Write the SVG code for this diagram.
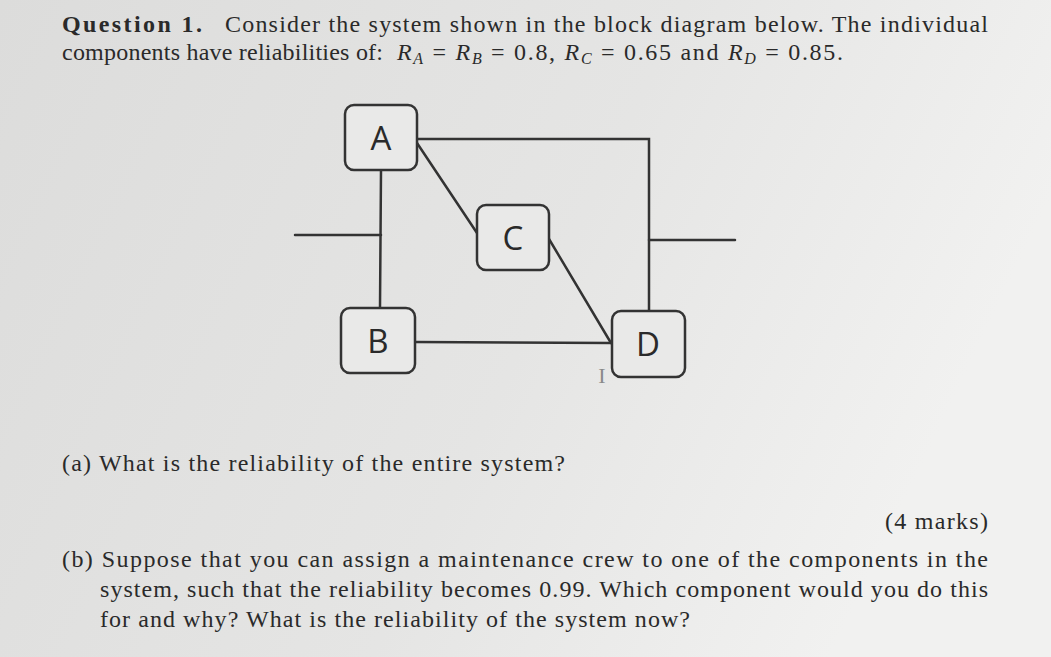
<svg xmlns="http://www.w3.org/2000/svg" width="1051" height="657" viewBox="0 0 1051 657">
<defs>
<linearGradient id="bg" x1="0" y1="0" x2="1" y2="0.3">
<stop offset="0" stop-color="#dcdcdb"/>
<stop offset="0.6" stop-color="#e5e5e4"/>
<stop offset="1" stop-color="#f1f1f0"/>
</linearGradient>
</defs>
<style>
.t{font-family:"Liberation Serif","DejaVu Serif",serif;font-size:24px;fill:#2a2a2a}
.b{font-weight:bold}
.i{font-style:italic}
.s{font-size:16px;font-style:italic}
.box{fill:#e9e9e8;stroke:#333;stroke-width:2.5}
.lbl{font-family:"Open Sans","Liberation Sans",sans-serif;font-size:33px;fill:#2a2a2a;text-anchor:middle}
.ln{stroke:#333;stroke-width:2.5;fill:none;stroke-linecap:round}
</style>
<rect width="1051" height="657" fill="url(#bg)"/>

<text class="t b" x="62" y="32" textLength="140" lengthAdjust="spacing">Question 1.</text>
<text class="t" x="225" y="32" textLength="763" lengthAdjust="spacing">Consider the system shown in the block diagram below.  The individual</text>
<text class="t" x="62" y="60" textLength="321" lengthAdjust="spacing">components have reliabilities of:</text>
<text class="t" x="397" y="60" textLength="446" lengthAdjust="spacing"><tspan class="i">R</tspan><tspan class="s" dy="4">A</tspan><tspan dy="-4"> = </tspan><tspan class="i">R</tspan><tspan class="s" dy="4">B</tspan><tspan dy="-4"> = 0.8, </tspan><tspan class="i">R</tspan><tspan class="s" dy="4">C</tspan><tspan dy="-4"> = 0.65 and </tspan><tspan class="i">R</tspan><tspan class="s" dy="4">D</tspan><tspan dy="-4"> = 0.85.</tspan></text>

<g id="connectors">
<polyline class="ln" points="417,139 649,139 649,311"/>
<line class="ln" x1="649" y1="240" x2="735" y2="240"/>
<line class="ln" x1="295" y1="235" x2="381" y2="235"/>
<line class="ln" x1="381" y1="170" x2="380" y2="308"/>
<line class="ln" x1="417" y1="143" x2="477" y2="233"/>
<line class="ln" x1="549" y1="239" x2="611" y2="343"/>
<line class="ln" x1="415" y1="342" x2="612" y2="343"/>
</g>

<g id="node-A">
<rect class="box" x="345" y="105" width="72" height="65" rx="9"/>
<text class="lbl" x="381" y="150">A</text>
</g>
<g id="node-B">
<rect class="box" x="341" y="308" width="74" height="65" rx="9"/>
<text class="lbl" x="378" y="353">B</text>
</g>
<g id="node-C">
<rect class="box" x="477" y="205" width="72" height="65" rx="9"/>
<text class="lbl" x="513" y="250">C</text>
</g>
<g id="node-D">
<rect class="box" x="612" y="311" width="73" height="66" rx="9"/>
<text class="lbl" x="648" y="356">D</text>
</g>

<text x="602" y="383" font-family="Liberation Serif,serif" font-size="22" fill="#8a8a8a" text-anchor="middle">I</text>

<text class="t" x="62" y="471" textLength="503" lengthAdjust="spacing">(a) What is the reliability of the entire system?</text>
<text class="t" x="885" y="529" textLength="103" lengthAdjust="spacing">(4 marks)</text>
<text class="t" x="62" y="567" textLength="926" lengthAdjust="spacing">(b) Suppose that you can assign a maintenance crew to one of the components in the</text>
<text class="t" x="100" y="597" textLength="888" lengthAdjust="spacing">system, such that the reliability becomes 0.99. Which component would you do this</text>
<text class="t" x="100" y="627" textLength="590" lengthAdjust="spacing">for and why? What is the reliability of the system now?</text>
</svg>
